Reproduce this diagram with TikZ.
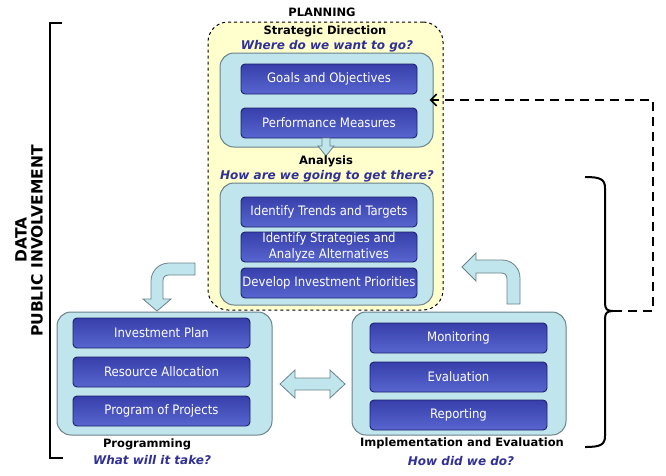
\documentclass[tikz,border=0pt]{standalone}
\usepackage{fontspec}
\setmainfont{DejaVu Sans}
\newfontfamily\condfont{DejaVu Sans Condensed}
\usetikzlibrary{arrows.meta}
\definecolor{panel}{RGB}{193,229,236}
\definecolor{panelline}{RGB}{105,130,138}
\definecolor{planfill}{RGB}{255,255,206}
\definecolor{qblue}{RGB}{48,48,150}
\definecolor{btop}{RGB}{55,63,170}
\definecolor{bbot}{RGB}{88,102,208}
\definecolor{bline}{RGB}{28,33,105}
\tikzset{
  panelbox/.style={draw=panelline,fill=panel,line width=1pt,rounded corners=14pt},
  itembox/.style={draw=bline,line width=0.9pt,rounded corners=4pt,top color=btop,bottom color=bbot,
    text=white,font=\condfont\fontsize{13}{15.5}\selectfont,align=center,minimum width=176pt,minimum height=30pt,inner sep=0pt},
  head/.style={font=\bfseries\fontsize{11.5}{14}\selectfont},
  ques/.style={font=\bfseries\itshape\fontsize{12}{14}\selectfont,text=qblue},
  side/.style={font=\bfseries\fontsize{15.5}{17}\selectfont,rotate=90},
  blockarrow/.style={draw=panelline,fill=panel,line width=0.8pt}
}
\begin{document}
\begin{tikzpicture}[x=1pt,y=-1pt]
\useasboundingbox (0,0) rectangle (666,475);
% Planning: strategic direction + analysis
\node[draw,dashed,line width=1pt,fill=planfill,rounded corners=20pt,minimum width=235pt,minimum height=288pt] (plan) at (325.5,166) {};
\node[head] (planning) at (322,12) {PLANNING};
\node[head] (sdtitle) at (325,31) {Strategic Direction};
\node[ques] (sdq) at (327,46) {Where do we want to go?};
\node[panelbox,minimum width=213pt,minimum height=94pt] (sd) at (326.5,100) {};
\node[itembox] (goals) at (329,79) {Goals and Objectives};
\node[itembox] (perf) at (329,123) {Performance Measures};
\draw[blockarrow] (322,138) -- (330,138) -- (330,146) -- (334,146) -- (326,156) -- (318,146) -- (322,146) -- cycle;
\node[head] (antitle) at (326,161) {Analysis};
\node[ques] (anq) at (327,176) {How are we going to get there?};
\node[panelbox,minimum width=213pt,minimum height=122pt] (an) at (326.5,244) {};
\foreach \y/\name/\txt in {212/trends/Identify Trends and Targets,
    247/strat/{Identify Strategies and\\Analyze Alternatives},
    283/prio/Develop Investment Priorities}
  \node[itembox] (\name) at (329,\y) {\txt};
% Programming
\node[panelbox,minimum width=215pt,minimum height=123pt] (prog) at (164.5,373.5) {};
\foreach \y/\name/\txt in {333/plan1/Investment Plan,372/alloc/Resource Allocation,411/pop/Program of Projects}
  \node[itembox,minimum width=177pt] (\name) at (161.5,\y) {\txt};
\node[head] (progtitle) at (147,444) {Programming};
\node[ques] (progq) at (152,460) {What will it take?};
% Implementation and Evaluation
\node[panelbox,minimum width=214pt,minimum height=123pt] (impl) at (459,373.5) {};
\foreach \y/\name/\txt in {338/mon/Monitoring,377/eval/Evaluation,415/rep/Reporting}
  \node[itembox,minimum width=177pt] (\name) at (458.5,\y) {\txt};
\node[head] (impltitle) at (462,443) {Implementation and Evaluation};
\node[ques] (implq) at (461,461) {How did we do?};
% block arrows between the stages
\draw[blockarrow] (195,263) -- (169,263) .. controls (159,263) and (151,271) .. (151,281) -- (151,299)
  -- (143,299) -- (157,311) -- (171,299) -- (163,299) -- (163,281)
  .. controls (163,277) and (165,275) .. (169,275) -- (195,275) -- cycle;
\draw[blockarrow] (507,304) -- (507,279) .. controls (507,275) and (505,273) .. (501,273) -- (476,273)
  -- (476,281) -- (462,267) -- (476,253) -- (476,260) -- (502,260)
  .. controls (512,260) and (520,268) .. (520,278) -- (520,304) -- cycle;
\draw[blockarrow] (280,384) -- (295,370) -- (295,378) -- (330,378) -- (330,370) -- (345,384)
  -- (330,398) -- (330,390) -- (295,390) -- (295,398) -- cycle;
% brackets and feedback
\draw[line width=2pt] (62,23) -- (50,23) -- (50,458) -- (63,458);
\node[side] (data) at (21,240) {DATA};
\node[side] (public) at (37,241) {PUBLIC INVOLVEMENT};
\coordinate (bracetip) at (613,311);
\draw[line width=2pt] (585,177) .. controls (600,177) and (605,179) .. (605,188) -- (605,303)
  .. controls (605,309) and (607,311) .. (bracetip) .. controls (607,311) and (605,313) .. (605,319)
  -- (605,436) .. controls (605,445) and (600,447) .. (585,447);
\draw[dashed,line width=1.6pt,dash pattern=on 9pt off 6pt,-{Straight Barb[length=6pt,width=12pt]},shorten >=-4pt] (bracetip) -- ++(40,0) |- (sd.east);
\end{tikzpicture}
\end{document}
